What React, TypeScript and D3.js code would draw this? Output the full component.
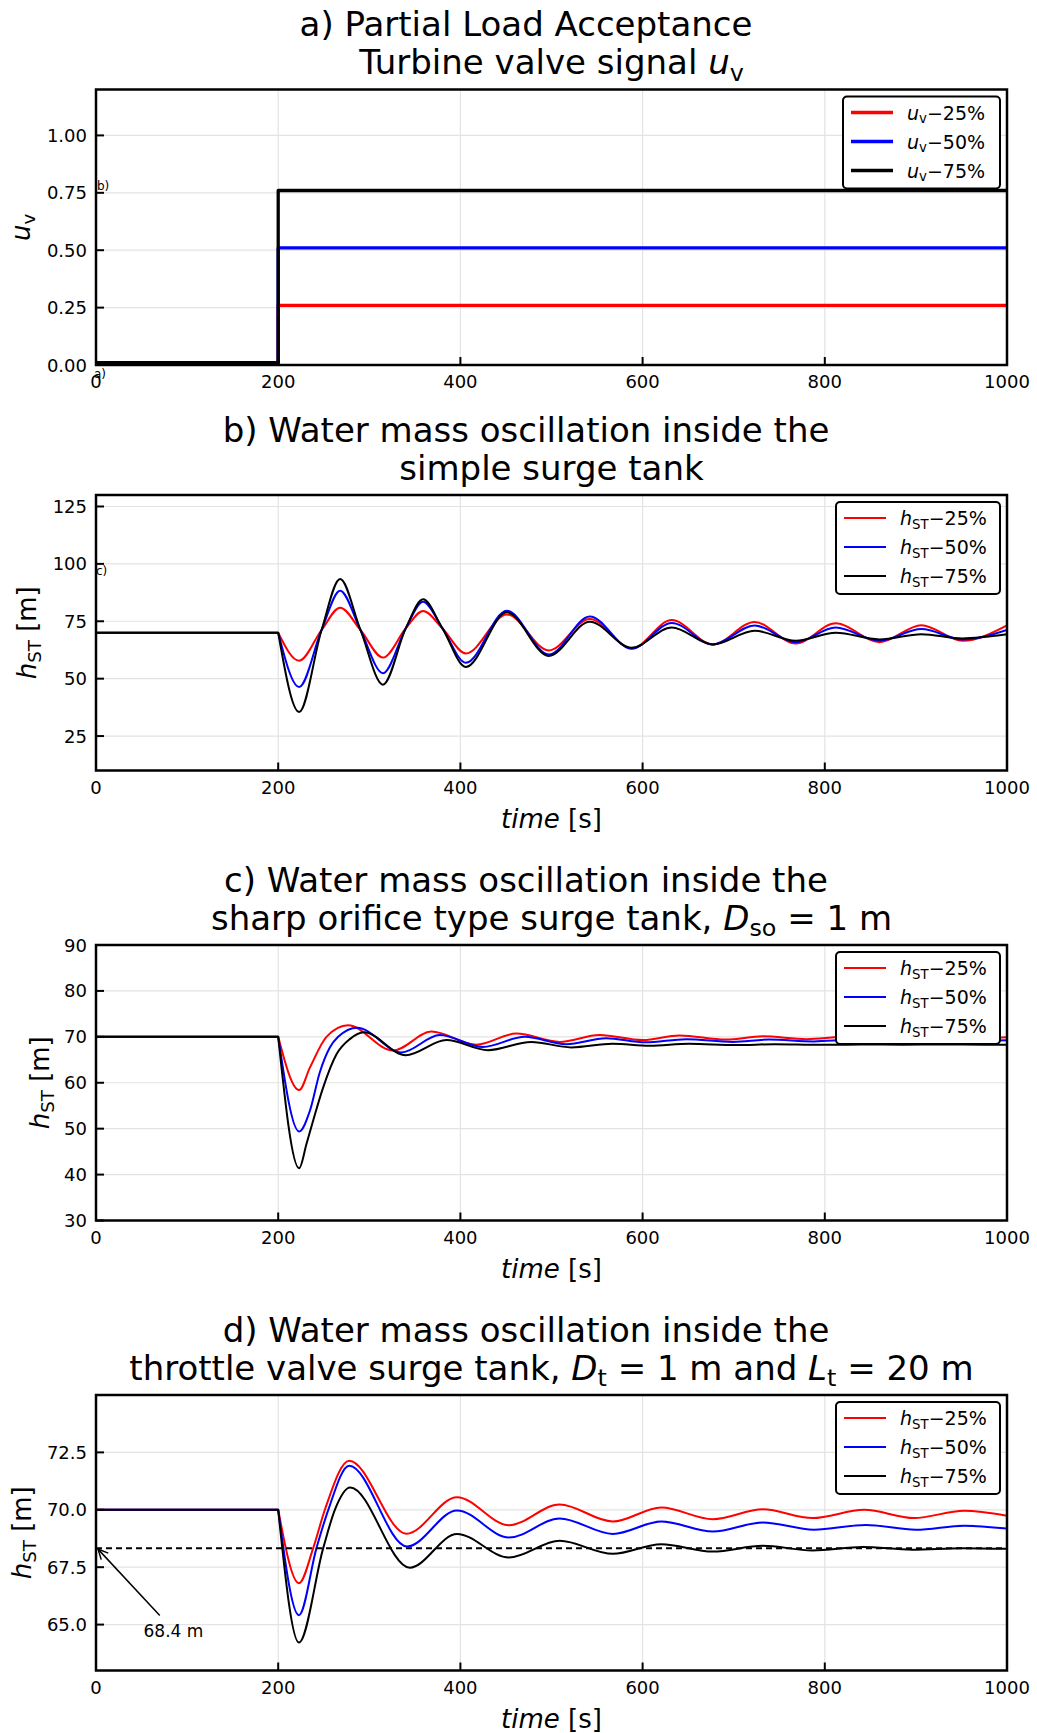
import React, { useEffect, useRef } from "react";
import * as d3 from "d3";

// ---- panel a: turbine valve signal ----
const uvTime = [0, 200, 200, 1000];
const uv25 = [0.01, 0.01, 0.26, 0.26];
const uv50 = [0.01, 0.01, 0.51, 0.51];
const uv75 = [0.01, 0.01, 0.76, 0.76];

// ---- panel b: simple surge tank ----
const simpleTime = [0, 200, 223, 247.6, 268, 290.3, 315, 340, 359, 380.3, 406, 451, 497, 542, 588, 632, 677, 723, 768, 812, 860, 906, 951, 1000];
const simple25 = [70, 70, 57.8, 71.2, 80.9, 71.2, 59.2, 71.9, 79.5, 71.9, 61.0, 78.0, 62.3, 76.0, 63.2, 75.5, 64.9, 74.7, 65.3, 74.1, 65.9, 73.3, 66.5, 73.2];
const simple50 = [70, 70, 46.4, 71.2, 88.3, 71.2, 52.4, 71.9, 83.5, 71.9, 56.9, 79.6, 60.5, 77.1, 63.0, 74.3, 64.9, 73.2, 65.9, 72.3, 66.5, 71.6, 67.1, 71.2];
const simple75 = [70, 70, 35.5, 71.2, 93.4, 71.2, 47.4, 71.9, 84.6, 71.9, 55.1, 78.9, 59.9, 74.8, 63.5, 72.3, 64.9, 70.9, 66.5, 70.0, 67.1, 69.4, 67.5, 69.3];

// ---- panel c: sharp orifice surge tank ----
const orifice25Time = [0, 200, 223, 234.8, 253, 276.8, 326, 368.2, 417.5, 461.4, 508.9, 552.7, 600.2, 640.5, 691.6, 731.8, 780, 822, 870, 912, 960, 1000];
const orifice25 = [70, 70, 58.4, 63.3, 70, 72.5, 67.0, 71.15, 68.3, 70.7, 68.9, 70.4, 69.3, 70.3, 69.4, 70.1, 69.5, 70.0, 69.6, 69.95, 69.65, 69.9];
const orifice50Time = [0, 200, 223, 234.8, 245.7, 256.7, 265.8, 286.7, 335.3, 377.3, 424.8, 470.5, 516, 559.9, 603, 647.8, 699, 739, 788, 830, 878, 920, 968, 1000];
const orifice50 = [70, 70, 49.4, 53.9, 62.3, 67.7, 70, 72.0, 66.6, 70.4, 67.8, 70.0, 68.4, 69.7, 68.8, 69.5, 68.9, 69.4, 69.0, 69.35, 69.1, 69.3, 69.15, 69.25];
const orifice75Time = [0, 200, 223, 231.1, 238.4, 249.4, 264, 278.6, 294, 340, 384.6, 430.3, 477.8, 521.7, 567.1, 607.6, 651, 702.6, 745, 795, 840, 885, 930, 975, 1000];
const orifice75 = [70, 70, 41.4, 46.7, 51.8, 59.0, 66.2, 69.5, 71.0, 66.0, 69.3, 67.1, 68.9, 67.7, 68.5, 68.05, 68.5, 68.2, 68.4, 68.25, 68.35, 68.28, 68.33, 68.3, 68.3];

// ---- panel d: throttle valve surge tank ----
const throttle25Time = [0, 200, 222.8, 238.4, 251.2, 277.9, 340.8, 396.3, 453.3, 508.9, 567.3, 620.4, 677.1, 731.9, 786.5, 843.3, 898.1, 952.9, 1000];
const throttle25 = [70, 70, 66.8, 68.33, 70, 72.14, 68.96, 70.55, 69.33, 70.23, 69.49, 70.1, 69.59, 70.02, 69.64, 70.0, 69.64, 69.96, 69.74];
const throttle50Time = [0, 200, 222.8, 242, 255, 277.9, 341.5, 396.3, 453.3, 508.9, 567.3, 620.4, 677.1, 731.9, 788, 845, 900, 953, 1000];
const throttle50 = [70, 70, 65.41, 68.33, 70, 71.92, 68.4, 69.97, 68.79, 69.62, 68.95, 69.49, 69.05, 69.45, 69.13, 69.34, 69.13, 69.31, 69.18];
const throttle75Time = [0, 200, 222.8, 249.4, 262.2, 279, 344.4, 396.3, 453.3, 508.9, 567.3, 620.4, 677.1, 731.9, 786.5, 841.5, 896, 951, 1000];
const throttle75 = [70, 70, 64.22, 68.33, 70, 70.97, 67.48, 68.95, 67.92, 68.65, 68.08, 68.5, 68.18, 68.43, 68.23, 68.38, 68.26, 68.33, 68.3];
const steadyLevel = 68.33;

const xTicks = [0, 200, 400, 600, 800, 1000];
const legendPct = ["25%", "50%", "75%"];
const colors = ["#ff0000", "#0000ff", "#000000"];

const FONT = "DejaVu Sans";
const LEFT = 96, RIGHT = 1007, PH = 275.5;

type Part = [string, string];

function rich(sel: any, parts: Part[], size: number) {
  let shift = 0;
  parts.forEach(([txt, kind]) => {
    const ts = sel.append("tspan").text(txt);
    if (kind === "i") ts.attr("font-style", "italic");
    if (kind === "sub") {
      ts.attr("font-size", size * 0.7).attr("dy", size * 0.2);
      shift = size * 0.2;
    } else if (shift) {
      ts.attr("dy", -shift);
      shift = 0;
    }
  });
}

const panels = [
  {
    top: 89.5, domain: [0, 1.2], ticks: [0, 0.25, 0.5, 0.75, 1.0], fmt: d3.format(".2f"),
    title1: [["a) Partial Load Acceptance", "n"]],
    title2: [["Turbine valve signal ", "n"], ["u", "i"], ["v", "sub"]],
    ylab: [["u", "i"], ["v", "sub"]], ylabX: 30, xlab: false, step: true, lw: 3.3,
    sym: [["u", "i"], ["v", "sub"]], legW: 157,
    series: [[uvTime, uv25], [uvTime, uv50], [uvTime, uv75]],
  },
  {
    top: 495, domain: [10, 130], ticks: [25, 50, 75, 100, 125], fmt: d3.format("d"),
    title1: [["b) Water mass oscillation inside the", "n"]],
    title2: [["simple surge tank", "n"]],
    ylab: [["h", "i"], ["ST", "sub"], [" [m]", "n"]], ylabX: 36, xlab: true, step: false, lw: 2,
    sym: [["h", "i"], ["ST", "sub"]], legW: 164,
    series: [[simpleTime, simple25], [simpleTime, simple50], [simpleTime, simple75]],
  },
  {
    top: 945, domain: [30, 90], ticks: [30, 40, 50, 60, 70, 80, 90], fmt: d3.format("d"),
    title1: [["c) Water mass oscillation inside the", "n"]],
    title2: [["sharp orifice type surge tank, ", "n"], ["D", "i"], ["so", "sub"], [" = 1 m", "n"]],
    ylab: [["h", "i"], ["ST", "sub"], [" [m]", "n"]], ylabX: 49, xlab: true, step: false, lw: 2,
    sym: [["h", "i"], ["ST", "sub"]], legW: 164,
    series: [[orifice25Time, orifice25], [orifice50Time, orifice50], [orifice75Time, orifice75]],
  },
  {
    top: 1395, domain: [63, 75], ticks: [65, 67.5, 70, 72.5], fmt: d3.format(".1f"),
    title1: [["d) Water mass oscillation inside the", "n"]],
    title2: [["throttle valve surge tank, ", "n"], ["D", "i"], ["t", "sub"], [" = 1 m and ", "n"], ["L", "i"], ["t", "sub"], [" = 20 m", "n"]],
    ylab: [["h", "i"], ["ST", "sub"], [" [m]", "n"]], ylabX: 31, xlab: true, step: false, lw: 2,
    sym: [["h", "i"], ["ST", "sub"]], legW: 164,
    series: [[throttle25Time, throttle25], [throttle50Time, throttle50], [throttle75Time, throttle75]],
  },
];

// stray subplot letters visible in the original
const strayLabels = [
  { text: "b)", x: 97, y: 190 },
  { text: "a)", x: 94, y: 378 },
  { text: "c)", x: 96, y: 575 },
];

export default function App() {
  const ref = useRef<SVGSVGElement>(null);

  useEffect(() => {
    const svg = d3.select(ref.current);
    svg.selectAll("*").remove();
    svg.append("rect").attr("width", 1037).attr("height", 1733).attr("fill", "white");

    const x = d3.scaleLinear().domain([0, 1000]).range([LEFT, RIGHT]);

    panels.forEach((p: any, pi) => {
      const bottom = p.top + PH;
      const y = d3.scaleLinear().domain(p.domain).range([bottom, p.top]);
      const g = svg.append("g").style("font-family", FONT);

      const clipId = "clip" + pi;
      svg.append("clipPath").attr("id", clipId).append("rect")
        .attr("x", LEFT).attr("y", p.top).attr("width", RIGHT - LEFT).attr("height", PH);

      // grid
      g.selectAll(".gx").data(xTicks).join("line")
        .attr("x1", (d: number) => x(d)).attr("x2", (d: number) => x(d))
        .attr("y1", p.top).attr("y2", bottom)
        .attr("stroke", "#e3e3e3").attr("stroke-width", 1.2);
      g.selectAll(".gy").data(p.ticks).join("line")
        .attr("x1", LEFT).attr("x2", RIGHT)
        .attr("y1", (d: number) => y(d)).attr("y2", (d: number) => y(d))
        .attr("stroke", "#e3e3e3").attr("stroke-width", 1.2);

      // series
      const lines = g.append("g").attr("clip-path", `url(#${clipId})`);
      p.series.forEach(([ts, vs]: number[][], si: number) => {
        const pts: [number, number][] = ts.map((t, i) => [x(t), y(vs[i])]);
        let path: string;
        if (p.step) {
          path = d3.line()(pts) as string;
        } else {
          const curve = d3.line().curve(d3.curveMonotoneX)(pts.slice(1)) as string;
          path = `M${pts[0][0]},${pts[0][1]}L` + curve.slice(1);
        }
        lines.append("path").attr("d", path).attr("fill", "none")
          .attr("stroke", colors[si]).attr("stroke-width", p.lw)
          .attr("stroke-linejoin", "round");
      });

      if (pi === 3) {
        lines.append("line")
          .attr("x1", x(0)).attr("x2", x(1000))
          .attr("y1", y(steadyLevel)).attr("y2", y(steadyLevel))
          .attr("stroke", "black").attr("stroke-width", 2).attr("stroke-dasharray", "6,4");
        // annotation arrow
        const tx = x(70), ty = y(65.4);
        const hx = x(0) + 2, hy = y(steadyLevel) + 1;
        g.append("line").attr("x1", tx).attr("y1", ty).attr("x2", hx).attr("y2", hy)
          .attr("stroke", "black").attr("stroke-width", 1.5);
        const ang = Math.atan2(ty - hy, tx - hx);
        const L = 11, spread = 0.45;
        g.append("path")
          .attr("d", `M${hx + L * Math.cos(ang - spread)},${hy + L * Math.sin(ang - spread)}L${hx},${hy}L${hx + L * Math.cos(ang + spread)},${hy + L * Math.sin(ang + spread)}`)
          .attr("fill", "none").attr("stroke", "black").attr("stroke-width", 1.5);
        g.append("text").attr("x", x(85)).attr("y", y(64.45))
          .attr("text-anchor", "middle").attr("font-size", 17).text("68.4 m");
      }

      // frame
      g.append("rect").attr("x", LEFT).attr("y", p.top).attr("width", RIGHT - LEFT).attr("height", PH)
        .attr("fill", "none").attr("stroke", "black").attr("stroke-width", 2.5);

      // ticks (inward)
      g.selectAll(".tx").data(xTicks).join("line")
        .attr("x1", (d: number) => x(d)).attr("x2", (d: number) => x(d))
        .attr("y1", bottom).attr("y2", bottom - 8)
        .attr("stroke", "black").attr("stroke-width", 2);
      g.selectAll(".ty").data(p.ticks).join("line")
        .attr("x1", LEFT).attr("x2", LEFT + 8)
        .attr("y1", (d: number) => y(d)).attr("y2", (d: number) => y(d))
        .attr("stroke", "black").attr("stroke-width", 2);

      // tick labels
      g.selectAll(".lx").data(xTicks).join("text")
        .attr("x", (d: number) => x(d)).attr("y", bottom + 23)
        .attr("text-anchor", "middle").attr("font-size", 18)
        .text((d: number) => String(d));
      g.selectAll(".ly").data(p.ticks).join("text")
        .attr("x", LEFT - 9).attr("y", (d: number) => y(d) + 6.5)
        .attr("text-anchor", "end").attr("font-size", 18)
        .text((d: number) => p.fmt(d));

      // titles
      const t1 = g.append("text").attr("x", 526).attr("y", p.top - 53.5)
        .attr("text-anchor", "middle").attr("font-size", 34).style("white-space", "pre");
      rich(t1, p.title1, 34);
      const t2 = g.append("text").attr("x", 551.5).attr("y", p.top - 15.5)
        .attr("text-anchor", "middle").attr("font-size", 34).style("white-space", "pre");
      rich(t2, p.title2, 34);

      // axis labels
      const yl = g.append("text")
        .attr("transform", `translate(${p.ylabX},${(p.top + bottom) / 2}) rotate(-90)`)
        .attr("text-anchor", "middle").attr("font-size", 26).style("white-space", "pre");
      rich(yl, p.ylab, 26);
      if (p.xlab) {
        const xl = g.append("text").attr("x", (LEFT + RIGHT) / 2).attr("y", bottom + 57)
          .attr("text-anchor", "middle").attr("font-size", 26).style("white-space", "pre");
        rich(xl, [["time", "i"], [" [s]", "n"]], 26);
      }

      // legend
      const lx = RIGHT - 7 - p.legW, ly = p.top + 7;
      g.append("rect").attr("x", lx).attr("y", ly).attr("width", p.legW).attr("height", 92)
        .attr("rx", 4).attr("fill", "white").attr("stroke", "black").attr("stroke-width", 2);
      legendPct.forEach((pct, i) => {
        const ey = ly + 16 + i * 29;
        g.append("line").attr("x1", lx + 8).attr("x2", lx + 50).attr("y1", ey).attr("y2", ey)
          .attr("stroke", colors[i]).attr("stroke-width", p.lw);
        const lt = g.append("text").attr("x", lx + 64).attr("y", ey + 7)
          .attr("font-size", 19).style("white-space", "pre");
        rich(lt, [...p.sym, ["\u2212" + pct, "n"]], 19);
      });
    });

    svg.append("g").style("font-family", FONT).selectAll("text").data(strayLabels).join("text")
      .attr("x", (d: any) => d.x).attr("y", (d: any) => d.y)
      .attr("font-size", 12).text((d: any) => d.text);
  }, []);

  return (
    <svg ref={ref} width={1037} height={1733}
      style={{ position: "absolute", left: 0, top: 0, display: "block" }} />
  );
}
